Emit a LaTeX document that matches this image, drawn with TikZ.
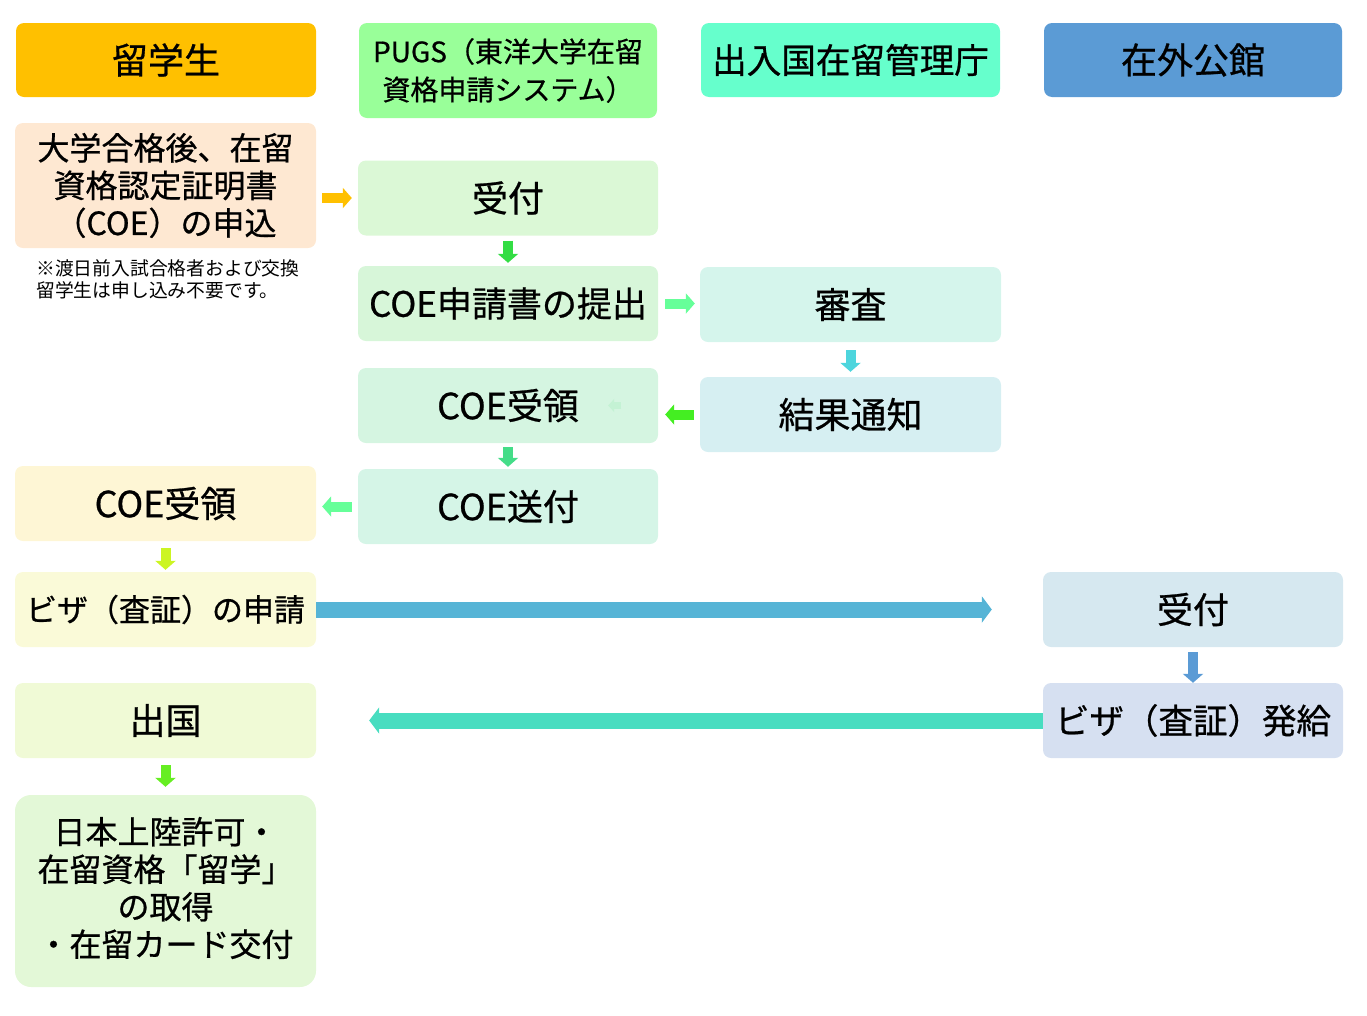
\documentclass[tikz,border=0pt]{standalone}
\usepackage{fontspec}
\newfontfamily\jp{Noto Sans CJK JP}[FakeBold=0.7]
\newfontfamily\jpthin{Noto Sans CJK JP}
\usetikzlibrary{arrows.meta}
\definecolor{cAmber}{HTML}{FFC000}
\definecolor{cPugsH}{HTML}{99FF99}
\definecolor{cImmH}{HTML}{66FFCC}
\definecolor{cEmbH}{HTML}{5B9BD5}
\definecolor{cPeach}{HTML}{FEE8D2}
\definecolor{cG1}{HTML}{DBF8D6}
\definecolor{cG2}{HTML}{D7F6D9}
\definecolor{cG3}{HTML}{D5F5E1}
\definecolor{cG4}{HTML}{D5F5E7}
\definecolor{cT1}{HTML}{D5F5EC}
\definecolor{cT2}{HTML}{D6EFF2}
\definecolor{cCream}{HTML}{FEF6D5}
\definecolor{cYel}{HTML}{FAFAD8}
\definecolor{cLime}{HTML}{F0FAD6}
\definecolor{cLG}{HTML}{E3F8D7}
\definecolor{cB1}{HTML}{D6E8F0}
\definecolor{cB2}{HTML}{D6E0F1}
\definecolor{aOrange}{HTML}{FFC000}
\definecolor{aGreen}{HTML}{33DD44}
\definecolor{aMint}{HTML}{66FF99}
\definecolor{aCyan}{HTML}{4DD5DD}
\definecolor{aLeaf}{HTML}{44EE22}
\definecolor{aSea}{HTML}{44DD88}
\definecolor{aYG}{HTML}{CCF522}
\definecolor{aBlue}{HTML}{56B4D6}
\definecolor{aSteel}{HTML}{5B9BD5}
\definecolor{aTeal}{HTML}{48DDC0}
\definecolor{aFaint}{HTML}{C4F2D4}
\definecolor{aGrass}{HTML}{66EE22}
\begin{document}
\begin{tikzpicture}[x=1pt,y=-1pt,
  box/.style={rectangle, rounded corners=8pt, inner sep=0pt, minimum width=300pt, minimum height=75pt, align=center, font=\jp\fontsize{36}{38}\selectfont, text=black},
  blk/.style={line width=10pt, -{Triangle[width=20pt,length=9pt]}},
  bigblk/.style={line width=16pt, -{Triangle[width=26pt,length=10pt]}}]
\useasboundingbox (0,0) rectangle (1367,1015);
% headers
\node[box, fill=cAmber, minimum height=74pt] (hstu) at (166,60) {留学生};
\node[box, fill=cPugsH, minimum width=298pt, minimum height=95pt, font=\jp\fontsize{28}{38}\selectfont] (hpugs) at (508,70.5) {PUGS（東洋大学在留\\資格申請システム）};
\node[box, fill=cImmH, minimum width=299pt, minimum height=74pt, font=\jp\fontsize{34.6}{38}\selectfont] (himm) at (850.5,60) {出入国在留管理庁};
\node[box, fill=cEmbH, minimum width=298pt, minimum height=74pt] (hemb) at (1193,60) {在外公館};
% student column
\node[box, fill=cPeach, minimum width=301pt, minimum height=125pt, font=\jp\fontsize{32}{37.5}\selectfont] (apply) at (165.5,185.5) {大学合格後、在留\\資格認定証明書\\（COE）の申込};
\node[anchor=north west, inner sep=0pt, align=left, font=\jpthin\fontsize{18.8}{22}\selectfont] (note) at (36,259) {※渡日前入試合格者および交換\\留学生は申し込み不要です。};
\node[box, fill=cCream, minimum width=301pt] (recvB) at (165.5,503.5) {COE受領};
\node[box, fill=cYel, minimum width=301pt, font=\jp\fontsize{31}{38}\selectfont] (visa) at (165.5,609.5) {ビザ（査証）の申請};
\node[box, fill=cLime, minimum width=301pt] (depart) at (165.5,720.5) {出国};
\node[box, fill=cLG, minimum width=301pt, minimum height=192pt, rounded corners=16pt] (land) at (165.5,891) {};
\node[align=center, inner sep=0pt, font=\jp\fontsize{32}{37.5}\selectfont] (landtxt) at ([yshift=3pt]land.center) {日本上陸許可・\\在留資格「留学」\\の取得\\・在留カード交付};
% PUGS column
\node[box, fill=cG1] (uke) at (508,198) {受付};
\node[box, fill=cG2, font=\jp\fontsize{35}{38}\selectfont] (sub) at (508,303.5) {COE申請書の提出};
\node[box, fill=cG3] (recvA) at (508,405.5) {COE受領};
\node[box, fill=cG4] (send) at (508,506.5) {COE送付};
% immigration column
\node[box, fill=cT1, minimum width=301pt] (exam) at (850.5,304.5) {審査};
\node[box, fill=cT2, minimum width=301pt] (res) at (850.5,414.5) {結果通知};
% embassy column
\node[box, fill=cB1] (uke2) at (1193,609.5) {受付};
\node[box, fill=cB2, font=\jp\fontsize{34.5}{38}\selectfont] (issue) at (1193,720.5) {ビザ（査証）発給};
% arrows
\draw[blk, draw=aOrange, shorten <=6pt, shorten >=6pt] (apply.east |- uke) -- (uke.west);
\draw[blk, draw=aGreen, shorten <=5pt, shorten >=3pt] (uke.south) -- (sub.north);
\draw[blk, draw=aMint, shorten <=7pt, shorten >=5pt] (sub.east) -- (exam.west |- sub.east);
\draw[blk, draw=aCyan, shorten <=8pt, shorten >=5pt] (exam.south) -- (res.north);
\draw[blk, draw=aLeaf, shorten <=6pt, shorten >=7pt] (res.west) -- (recvA.east |- res.west);
\draw[draw=aFaint, line width=7pt, -{Triangle[width=13pt,length=6pt]}] ([xshift=-37pt]recvA.east) -- ([xshift=-50pt]recvA.east);
\draw[blk, draw=aSea, shorten <=4pt, shorten >=2pt] (recvA.south) -- (send.north);
\draw[blk, draw=aMint, shorten <=6pt, shorten >=6pt] (send.west) -- (recvB.east |- send.west);
\draw[blk, draw=aYG, shorten <=7pt, shorten >=2pt] (recvB.south) -- (visa.north);
\draw[bigblk, draw=aBlue, shorten >=51pt] (visa.east) -- (uke2.west);
\draw[blk, draw=aSteel, shorten <=5pt, shorten >=0pt] (uke2.south) -- (issue.north);
\draw[bigblk, draw=aTeal, shorten >=53pt] (issue.west) -- (depart.east);
\draw[blk, draw=aGrass, shorten <=7pt, shorten >=8pt] (depart.south) -- (land.north);
\end{tikzpicture}
\end{document}
